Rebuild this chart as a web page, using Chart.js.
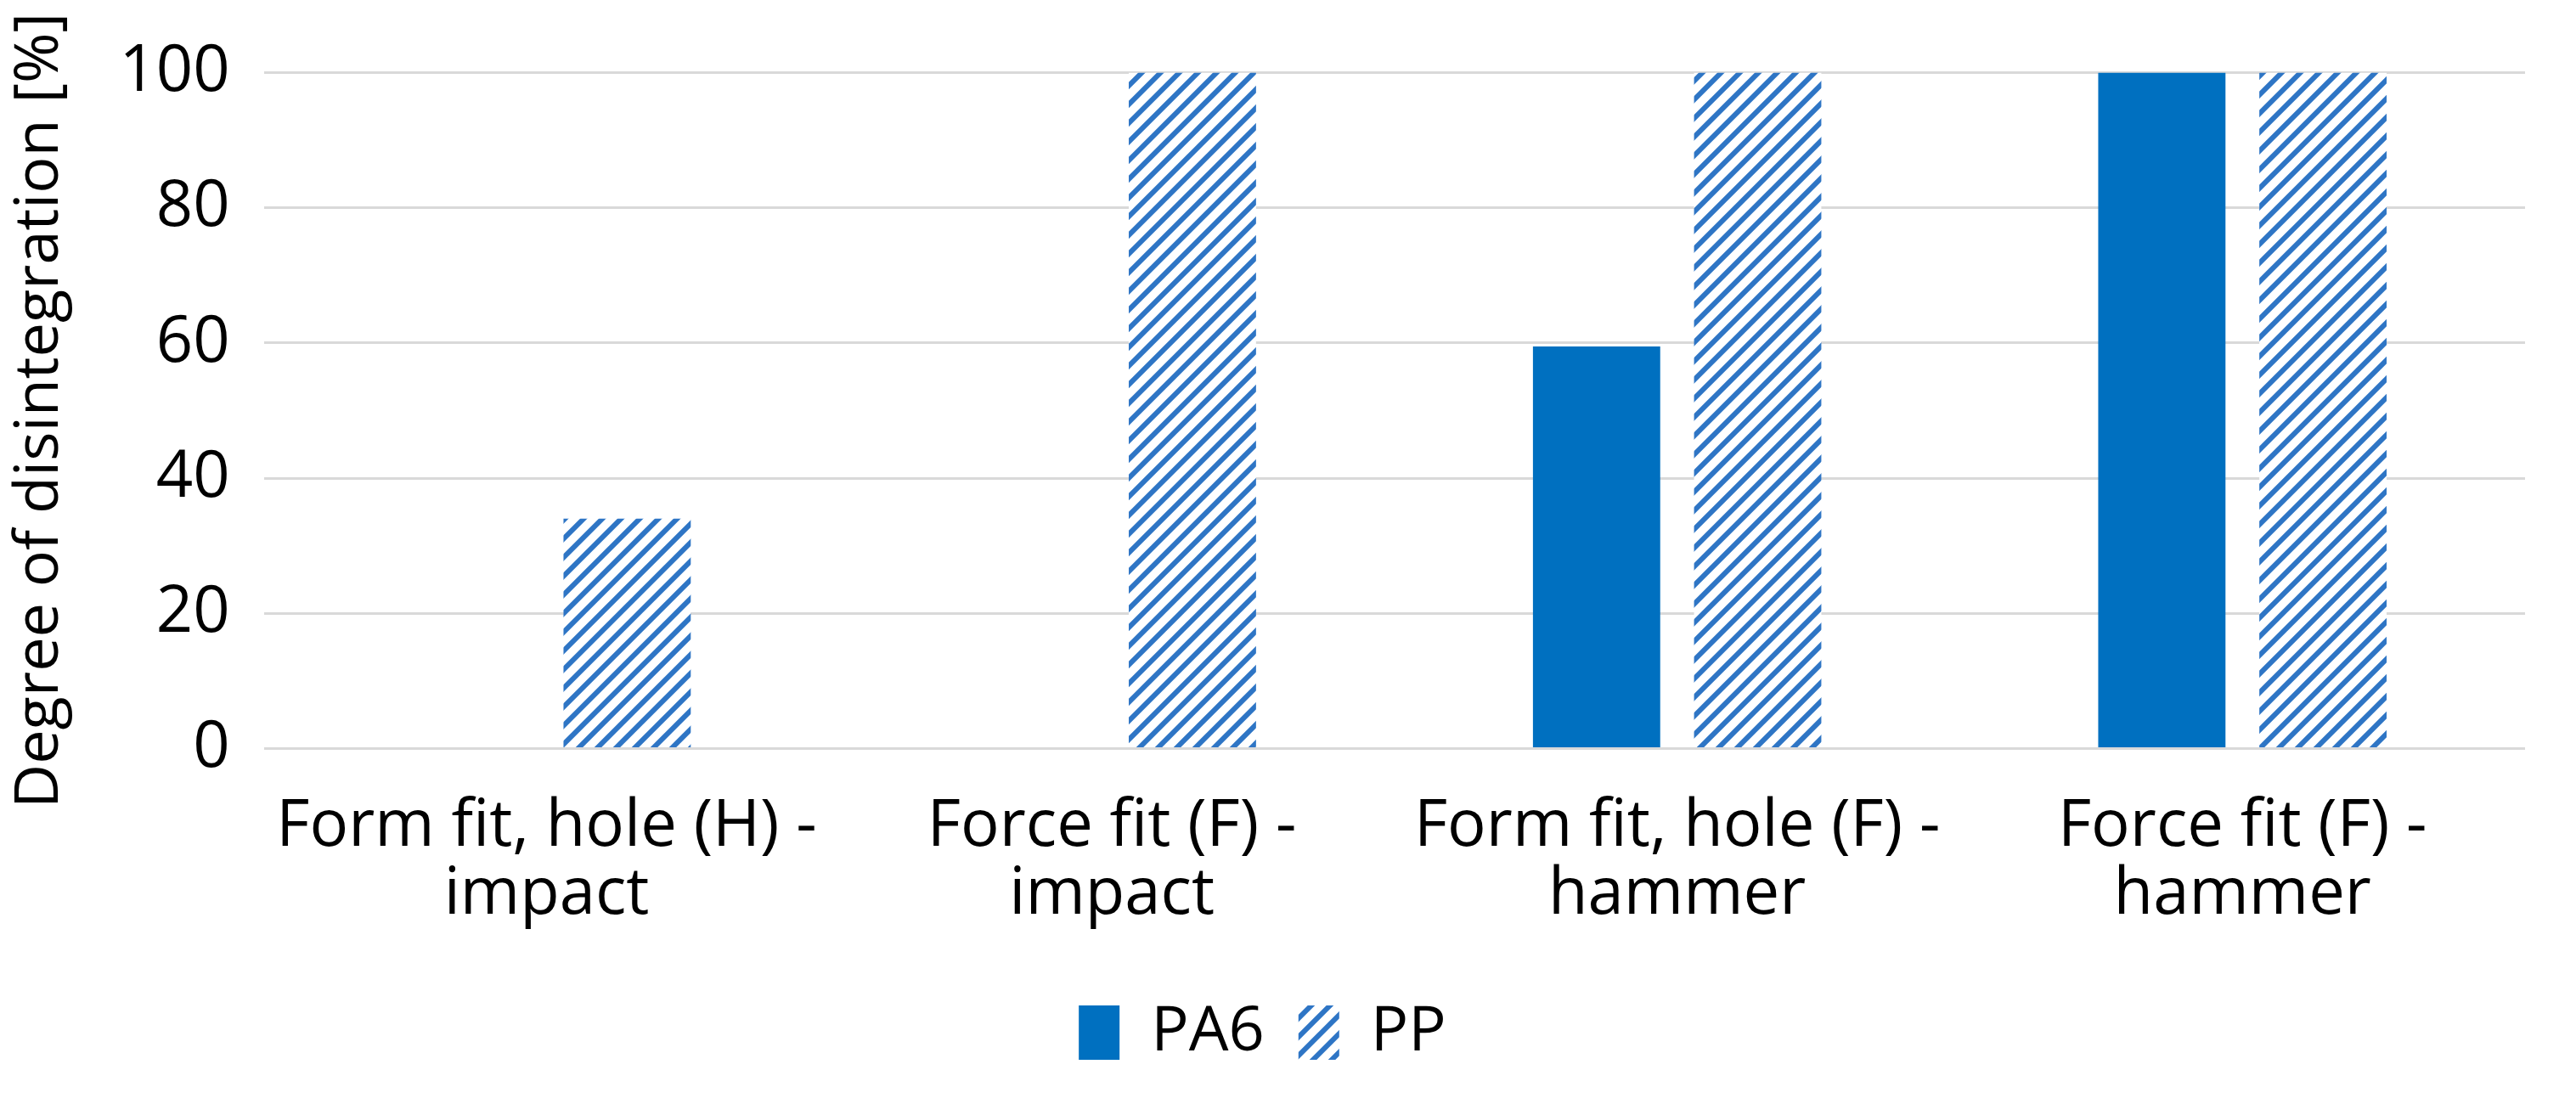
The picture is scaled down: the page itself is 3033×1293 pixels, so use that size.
<!DOCTYPE html>
<html><head><meta charset="utf-8">
<script src="https://cdn.jsdelivr.net/npm/chart.js@4"></script>
<style>html,body{margin:0;padding:0;background:#fff}#w{width:3033px;height:1293px}</style>
</head><body><div id="w"><canvas id="c"></canvas></div>
<script>
const categories = [["Form fit, hole (H) -","impact"],["Force fit (F) -","impact"],["Form fit, hole (F) -","hammer"],["Force fit (F) -","hammer"]];
const pa6Values = [0, 0, 59.5, 100];
const ppValues = [34, 100, 100, 100];
const yTicks = [0, 20, 40, 60, 80, 100];

function hatch(){
  const s = 22, p = document.createElement('canvas');
  p.width = s; p.height = s;
  const g = p.getContext('2d');
  g.fillStyle = '#fff'; g.fillRect(0,0,s,s);
  g.strokeStyle = '#2E75C5'; g.lineWidth = 6;
  g.beginPath();
  g.moveTo(-s/2, s/2); g.lineTo(s/2, -s/2);
  g.moveTo(0, s); g.lineTo(s, 0);
  g.moveTo(s/2, s*1.5); g.lineTo(s*1.5, s/2);
  g.stroke();
  return g.createPattern(p, 'repeat');
}
const pat = hatch();
Chart.defaults.font.family = "'Open Sans', sans-serif";
Chart.defaults.color = '#000';
new Chart(document.getElementById('c'), {
  type: 'bar',
  data: { labels: categories, datasets: [
    { label: 'PA6', data: pa6Values, backgroundColor: '#0070C0', categoryPercentage: 0.57, barPercentage: 0.79 },
    { label: 'PP', data: ppValues, backgroundColor: pat, categoryPercentage: 0.57, barPercentage: 0.79 }
  ]},
  options: {
    responsive: true, maintainAspectRatio: false, animation: false, devicePixelRatio: 1,
    layout: { padding: { left: 0, right: 60, top: 50, bottom: 30 } },
    plugins: {
      tooltip: { enabled: false },
      legend: { position: 'bottom', labels: { font: { size: 74 }, boxWidth: 48, boxHeight: 64, padding: 40 } }
    },
    scales: {
      x: { grid: { display: false }, border: { display: false },
           ticks: { font: { size: 76, lineHeight: 1.05 }, padding: 45, maxRotation: 0, autoSkip: false } },
      y: { min: 0, max: 100, afterBuildTicks: a => { a.ticks = yTicks.map(v => ({ value: v })); },
           grid: { color: '#D9D9D9', lineWidth: 3, drawTicks: false }, border: { display: false },
           ticks: { font: { size: 76 }, padding: 40 },
           title: { display: true, text: 'Degree of disintegration [%]', font: { size: 72 }, padding: { bottom: 10 } } }
    }
  }
});
</script></body></html>
